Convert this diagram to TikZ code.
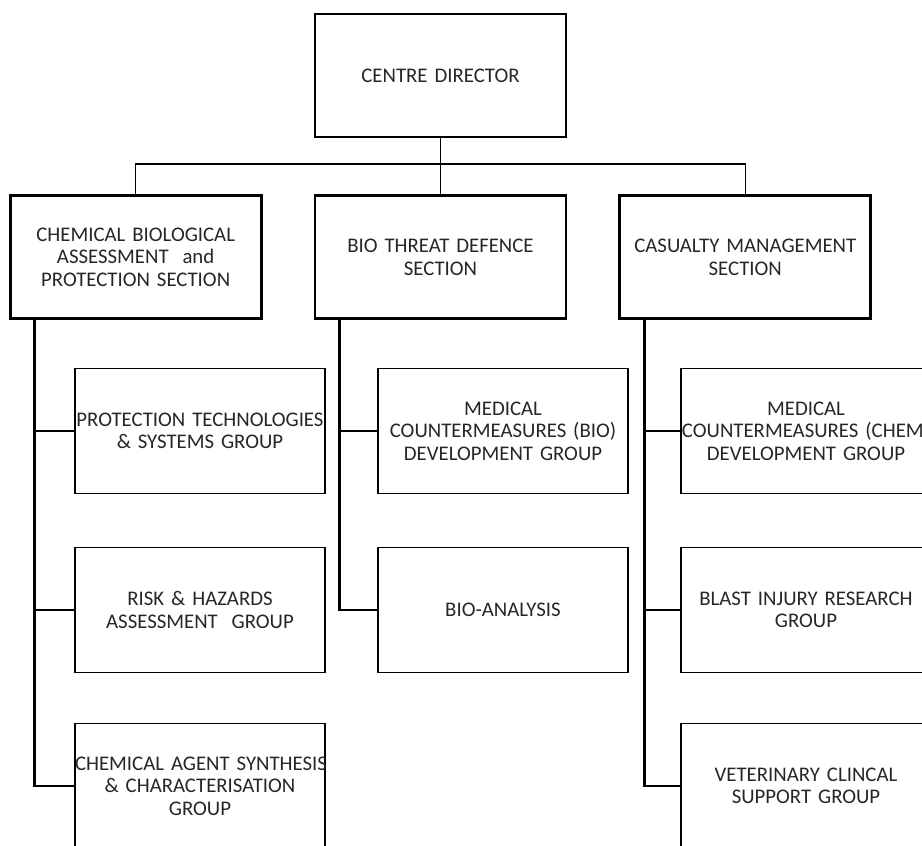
\documentclass[tikz,border=0pt]{standalone}
\usepackage{fontspec}
\setmainfont{Carlito}
\usetikzlibrary{positioning}
\newcommand{\boxfont}{\fontsize{20.8}{22.5}\selectfont
  \fontdimen2\font=3.2pt\fontdimen3\font=0pt\fontdimen4\font=0pt}

\begin{document}
\begin{tikzpicture}[x=1pt,y=-1pt,
  txt/.style={font=\boxfont,text=black!85,align=center},
  head box/.style={txt,draw,line width=2.8pt,text width=251pt,
    minimum height=123pt,inner sep=0pt},
  group box/.style={txt,draw,line width=1.4pt,text width=250pt,
    minimum height=125pt,inner sep=0pt},
  thin line/.style={line width=1.1pt},
  thick line/.style={line width=2.8pt}]
  \useasboundingbox (0,0) rectangle (922,846);
  \clip (0,0) rectangle (922,846);
  % director and sections
  \node[head box] (dir) at (440.5,75.5) {CENTRE DIRECTOR};
  \node[head box,below=56pt of dir] (bio) {BIO THREAT DEFENCE\\SECTION};
  \node[head box,left=51pt of bio] (cbap)
    {CHEMICAL BIOLOGICAL\\ASSESSMENT~ and\\PROTECTION SECTION};
  \node[head box,right=51pt of bio] (cas) {CASUALTY MANAGEMENT\\SECTION};
  % groups
  \node[group box] (pts)  at (200,431)
    {\mbox{PROTECTION TECHNOLOGIES}\\\& SYSTEMS GROUP};
  \node[group box] (rha)  at (200,610) {RISK \& HAZARDS\\ASSESSMENT~ GROUP};
  \node[group box] (cags) at (200,786)
    {\mbox{CHEMICAL AGENT SYNTHESIS}\\\& CHARACTERISATION\\GROUP};
  \node[group box] (mcb)  at (503,431)
    {MEDICAL\\COUNTERMEASURES (BIO)\\DEVELOPMENT GROUP};
  \node[group box] (bioa) at (503,610) {BIO-ANALYSIS};
  \node[group box] (mcc)  at (806,431)
    {MEDICAL\\\mbox{COUNTERMEASURES (CHEM)}\\DEVELOPMENT GROUP};
  \node[group box] (bir)  at (806,610) {BLAST INJURY RESEARCH\\GROUP};
  \node[group box] (vcs)  at (806,786) {VETERINARY CLINCAL\\SUPPORT GROUP};
  % top lines
  \coordinate (bus) at (440.5,164);
  \draw[thin line] (dir) -- (bio);
  \draw[thin line] (cbap.north) |- (bus) -| (cas.north);
  % rails
  \coordinate (rail1) at ([xshift=26pt]cbap.south west);
  \coordinate (rail2) at ([xshift=26pt]bio.south west);
  \coordinate (rail3) at ([xshift=26pt]cas.south west);
  \draw[thick line] (rail1) |- (cags.west);
  \draw[thin line] (pts.west) -- (pts.west -| rail1);
  \draw[thin line] (rha.west) -- (rha.west -| rail1);
  \draw[thick line] (rail2) |- (bioa.west);
  \draw[thick line] (mcb.west) -- (mcb.west -| rail2);
  \draw[thick line] (rail3) |- (vcs.west);
  \draw[thick line] (mcc.west) -- (mcc.west -| rail3);
  \draw[thick line] (bir.west) -- (bir.west -| rail3);
\end{tikzpicture}
\end{document}
